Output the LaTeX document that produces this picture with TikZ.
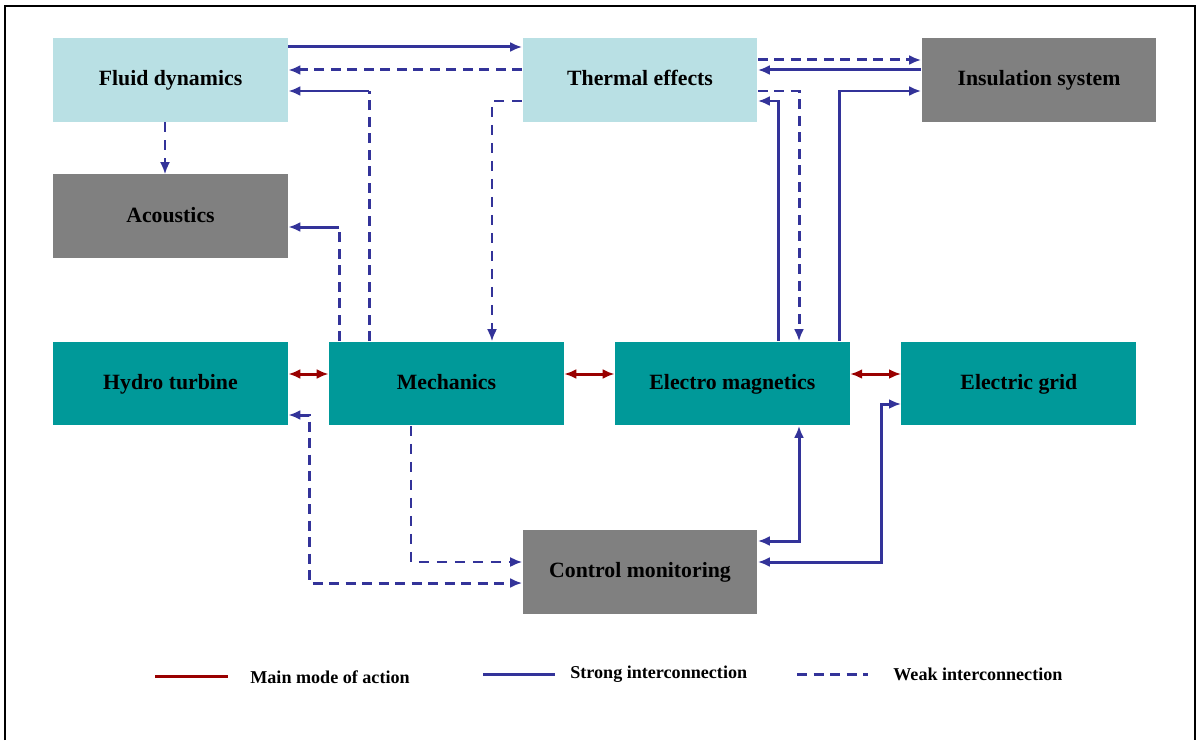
\documentclass[tikz,border=0pt]{standalone}
\usepackage{fontspec}
\setmainfont{Liberation Serif}
\usetikzlibrary{arrows.meta}
\definecolor{paleblue}{RGB}{185,224,228}
\definecolor{teal}{RGB}{0,153,153}
\definecolor{midgray}{RGB}{128,128,128}
\definecolor{linkblue}{RGB}{51,51,153}
\definecolor{darkred}{RGB}{153,0,0}
\tikzstyle{block} = [rectangle, minimum height=1.68cm, minimum width=4.7cm, inner sep=0pt, text height=0.86em, text depth=0.2em, font=\bfseries\fontsize{12.4}{14}\selectfont]
\tikzstyle{light} = [block, fill=paleblue]
\tikzstyle{dark} = [block, fill=midgray]
\tikzstyle{core} = [block, fill=teal]
\tikzstyle{main} = [draw=darkred, line width=0.06cm]
\tikzstyle{strong} = [draw=linkblue, line width=0.06cm]
\tikzstyle{weak} = [draw=linkblue, line width=0.06cm, dash pattern=on 0.2cm off 0.13cm]
\tikzstyle{weakthin} = [draw=linkblue, line width=0.04cm, dash pattern=on 0.2cm off 0.16cm]
\tikzstyle{legend} = [anchor=west, inner sep=0pt, font=\bfseries\fontsize{10.3}{12}\selectfont]

\begin{document}
\begin{tikzpicture}[x=0.02cm, y=-0.02cm, >={Latex[length=0.24cm, width=0.2cm]}]
	\useasboundingbox (0,0) rectangle (1199,740);
	\draw [line width=0.04cm] (5,740) -- (5,6) -- (1195,6) -- (1195,740);

	\node [light] (fluid) at (170.5,80) {Fluid dynamics};
	\node [light] (thermal) at (640,80) {Thermal effects};
	\node [dark] (insulation) at (1039,80) {Insulation system};
	\node [dark, below of=fluid, node distance=2.73cm] (acoustics) {Acoustics};
	\node [core] (hydro) at (170.5,383.5) {Hydro turbine};
	\node [core, right of=hydro, node distance=5.52cm] (mechanics) {Mechanics};
	\node [core, right of=mechanics, node distance=5.72cm] (electro) {Electro magnetics};
	\node [core, right of=electro, node distance=5.73cm] (grid) {Electric grid};
	\node [dark] (control) at (640,571.5) {Control monitoring};

	% levels and columns of the connectors
	\coordinate (r47) at (0,47);
	\coordinate (r60) at (0,60);
	\coordinate (r70) at (0,70);
	\coordinate (r91) at (0,91);
	\coordinate (r101) at (0,101);
	\coordinate (r227) at (0,227);
	\coordinate (r374) at (0,374);
	\coordinate (r404) at (0,404);
	\coordinate (r415) at (0,415);
	\coordinate (r541) at (0,541);
	\coordinate (r562) at (0,562);
	\coordinate (r583) at (0,583);
	\coordinate (c165) at (165,0);
	\coordinate (c309) at (309,0);
	\coordinate (c339) at (339,0);
	\coordinate (c369) at (369,0);
	\coordinate (c411) at (411,0);
	\coordinate (c492) at (492,0);
	\coordinate (c778) at (778,0);
	\coordinate (c799) at (799,0);
	\coordinate (c839) at (839,0);
	\coordinate (c881) at (881,0);

	% upper part
	\draw [strong, ->] (fluid.east |- r47) -- (thermal.west |- r47);
	\draw [weak, ->] (thermal.west |- r70) -- (fluid.east |- r70);
	\draw [weak] (mechanics.north -| c369) -- (c369 |- r91);
	\draw [strong, ->] (c369 |- r91) -- (fluid.east |- r91);
	\draw [weak] (mechanics.north -| c339) -- (c339 |- r227);
	\draw [strong, ->] (c339 |- r227) -- (acoustics.east |- r227);
	\draw [weakthin, ->] (thermal.west |- r101) -| (mechanics.north -| c492);
	\draw [weakthin, ->] (fluid.south -| c165) -- (acoustics.north -| c165);
	\draw [weak, ->] (thermal.east |- r60) -- (insulation.west |- r60);
	\draw [strong, ->] (insulation.west |- r70) -- (thermal.east |- r70);
	\draw [strong, ->] (electro.north -| c778) |- (thermal.east |- r101);
	\draw [weak, ->] (thermal.east |- r91) -| (electro.north -| c799);
	\draw [strong, ->] (electro.north -| c839) |- (insulation.west |- r91);

	% main chain
	\draw [main, <->] (hydro.east |- r374) -- (mechanics.west |- r374);
	\draw [main, <->] (mechanics.east |- r374) -- (electro.west |- r374);
	\draw [main, <->] (electro.east |- r374) -- (grid.west |- r374);

	% lower part
	\draw [strong, <->] (electro.south -| c799) |- (control.east |- r541);
	\draw [strong, <->] (control.east |- r562) -| (c881 |- r404) -- (grid.west |- r404);
	\draw [weak, <->] (hydro.east |- r415) -| (c309 |- r583) -- (control.west |- r583);
	\draw [weakthin, ->] (mechanics.south -| c411) |- (control.west |- r562);

	% legend
	\coordinate (lmainA) at (155,676);
	\coordinate (lmainB) at (228,676);
	\coordinate (lstrongA) at (483,674);
	\coordinate (lstrongB) at (555,674);
	\coordinate (lweakA) at (797,674);
	\coordinate (lweakB) at (868,674);
	\draw [main] (lmainA) -- (lmainB);
	\draw [strong] (lstrongA) -- (lstrongB);
	\draw [weak] (lweakA) -- (lweakB);
	\node [legend] (lmain) at (250,677) {Main mode of action};
	\node [legend] (lstrong) at (570,674) {Strong interconnection};
	\node [legend] (lweak) at (893,674) {Weak interconnection};
\end{tikzpicture}
\end{document}
